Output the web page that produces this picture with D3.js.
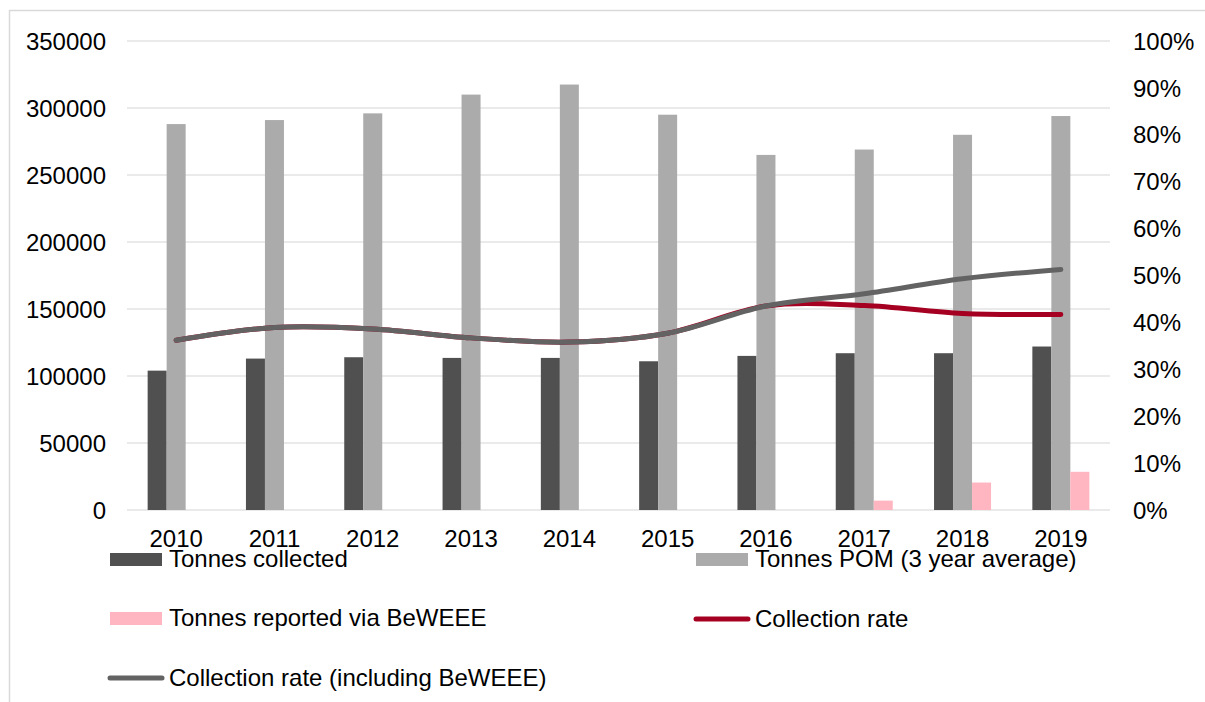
<!DOCTYPE html>
<html><head><meta charset="utf-8">
<script src="https://cdn.jsdelivr.net/npm/d3@7"></script>
<style>body{margin:0;background:#fff}svg{display:block;font-family:"Liberation Sans",Arial,sans-serif}</style>
</head><body><svg id="c" width="1205" height="702"></svg>
<script>
const years = ["2010","2011","2012","2013","2014","2015","2016","2017","2018","2019"];
const tonnesCollected = [104000,113000,114000,113500,113500,111000,115000,117000,117000,122000];
const tonnesPOM = [288000,291000,296000,310000,317500,295000,265000,269000,280000,294000];
const tonnesBeWEEE = [0,0,0,0,0,0,0,7000,20500,28500];
const collectionRate = [0.362,0.389,0.386,0.367,0.358,0.377,0.435,0.436,0.419,0.417];
const collectionRateIncl = [0.362,0.389,0.386,0.367,0.358,0.377,0.435,0.461,0.493,0.513];
const leftTicks = [0,50000,100000,150000,200000,250000,300000,350000];
const rightTicks = [0,0.1,0.2,0.3,0.4,0.5,0.6,0.7,0.8,0.9,1.0];

const svg = d3.select("#c");
const fs = 24;
svg.append("rect").attr("x",9.5).attr("y",10.5).attr("width",1200).attr("height",700)
  .attr("fill","none").attr("stroke","#d9d9d9").attr("stroke-width",1.5);

const L=127, R=1110, T=41, B=510;
const x = d3.scaleBand().domain(years).range([L,R]).paddingInner(0).paddingOuter(0);
const yL = d3.scaleLinear().domain([0,350000]).range([B,T]);
const yR = d3.scaleLinear().domain([0,1]).range([B,T]);
const barW = 19;

// gridlines
svg.append("g").selectAll("line").data(leftTicks).join("line")
  .attr("x1",L).attr("x2",R).attr("y1",d=>yL(d)).attr("y2",d=>yL(d))
  .attr("stroke","#e3e3e3").attr("stroke-width",1.5);

// left axis
const gl = svg.append("g").attr("transform",`translate(106,0)`)
  .call(d3.axisLeft(yL).tickValues(leftTicks).tickSize(0).tickPadding(0).tickFormat(d3.format("d")));
gl.select(".domain").remove();
gl.selectAll("text").attr("font-size",fs).attr("fill","#000").attr("font-family","Liberation Sans, Arial").attr("dy","0.36em");

// right axis
const gr = svg.append("g").attr("transform",`translate(1133,0)`)
  .call(d3.axisRight(yR).tickValues(rightTicks).tickSize(0).tickPadding(0).tickFormat(d3.format(".0%")));
gr.select(".domain").remove();
gr.selectAll("text").attr("font-size",fs).attr("fill","#000").attr("font-family","Liberation Sans, Arial").attr("dy","0.34em");

// x axis labels
const gx = svg.append("g").attr("transform",`translate(0,${B})`)
  .call(d3.axisBottom(x).tickSize(0).tickPadding(0));
gx.select(".domain").remove();
gx.selectAll("text").attr("font-size",fs).attr("fill","#000").attr("font-family","Liberation Sans, Arial").attr("dy",null).attr("y",37);

// bars
const series = [
  {vals:tonnesCollected, color:"#505050", off:-1.5},
  {vals:tonnesPOM, color:"#ababab", off:-0.5},
  {vals:tonnesBeWEEE, color:"#ffb6c1", off:0.5}
];
series.forEach(s=>{
  svg.append("g").selectAll("rect").data(years).join("rect")
    .attr("x",(d,i)=>x(d)+x.bandwidth()/2+s.off*barW)
    .attr("width",barW)
    .attr("y",(d,i)=>yL(s.vals[i]))
    .attr("height",(d,i)=>B-yL(s.vals[i]))
    .attr("fill",s.color);
});

// lines
const line = d3.line().x((d,i)=>x(years[i])+x.bandwidth()/2).y(d=>yR(d)).curve(d3.curveCardinal.tension(0));
svg.append("path").attr("d",line(collectionRate)).attr("fill","none").attr("stroke","#a50021").attr("stroke-width",5).attr("stroke-linecap","round");
svg.append("path").attr("d",line(collectionRateIncl)).attr("fill","none").attr("stroke","#636363").attr("stroke-width",5).attr("stroke-linecap","round");

// legend
const legend = [
  {label:"Tonnes collected", type:"rect", color:"#505050", x:110, y:559.5},
  {label:"Tonnes POM (3 year average)", type:"rect", color:"#ababab", x:696, y:559.5},
  {label:"Tonnes reported via BeWEEE", type:"rect", color:"#ffb6c1", x:110, y:618.5},
  {label:"Collection rate", type:"line", color:"#a50021", x:696, y:619},
  {label:"Collection rate (including BeWEEE)", type:"line", color:"#636363", x:110, y:678}
];
const lg = svg.append("g");
legend.forEach(l=>{
  if(l.type==="rect"){
    lg.append("rect").attr("x",l.x).attr("y",l.y-6.5).attr("width",52).attr("height",13).attr("fill",l.color);
  } else {
    lg.append("line").attr("x1",l.x).attr("x2",l.x+52).attr("y1",l.y).attr("y2",l.y)
      .attr("stroke",l.color).attr("stroke-width",5).attr("stroke-linecap","round");
  }
  lg.append("text").attr("x",l.x+59).attr("y",l.y).attr("dy","0.33em")
    .attr("font-size",fs).attr("fill","#000").text(l.label);
});
</script></body></html>
